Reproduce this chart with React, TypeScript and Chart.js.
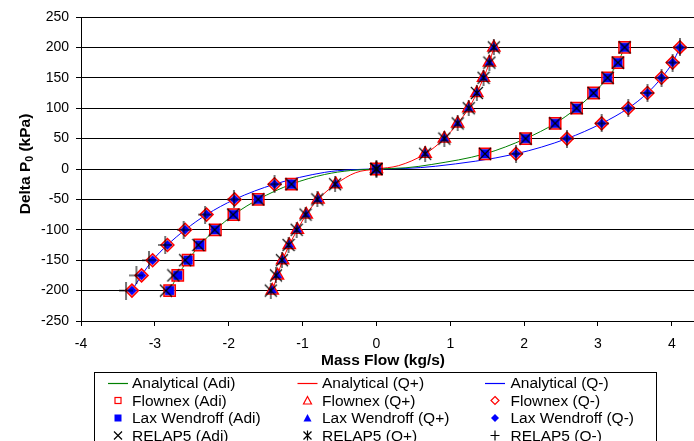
import React, { useEffect, useRef } from 'react';
import { Chart, registerables } from 'chart.js';

Chart.register(...registerables);

const FONT = "'Liberation Sans', Arial, Helvetica, sans-serif";

// Pressure difference levels (kPa) at which each model was evaluated
const pressureLevels = [-200, -175, -150, -125, -100, -75, -50, -25, 0, 25, 50, 75, 100, 125, 150, 175, 200];

// Mass flow (kg/s) per pressure level: Flownex and Lax Wendroff
const flowAdi = [-2.80, -2.69, -2.55, -2.39, -2.18, -1.93, -1.60, -1.15, 0, 1.47, 2.02, 2.42, 2.71, 2.94, 3.13, 3.27, 3.36];
const flowQPlus = [-1.41, -1.34, -1.27, -1.18, -1.07, -0.95, -0.79, -0.55, 0, 0.66, 0.92, 1.10, 1.25, 1.36, 1.45, 1.53, 1.59];
const flowQMinus = [-3.31, -3.18, -3.03, -2.83, -2.59, -2.30, -1.92, -1.38, 0, 1.89, 2.58, 3.05, 3.41, 3.67, 3.86, 4.01, 4.11];

// RELAP5 mass flow (kg/s) per pressure level
const relapAdi = [-2.85, -2.75, -2.59, -2.41, -2.19, -1.94, -1.60, -1.15, 0, 1.47, 2.02, 2.42, 2.71, 2.94, 3.13, 3.27, 3.36];
const relapQPlus = [-1.43, -1.36, -1.28, -1.19, -1.08, -0.96, -0.80, -0.56, 0, 0.66, 0.92, 1.10, 1.25, 1.36, 1.45, 1.53, 1.59];
const relapQMinus = [-3.39, -3.25, -3.08, -2.86, -2.61, -2.32, -1.93, -1.38, 0, 1.89, 2.58, 3.05, 3.41, 3.67, 3.86, 4.01, 4.11];

// Analytical solutions (mass flow kg/s, pressure kPa)
const analyticAdiFlow = [-2.80, -2.69, -2.55, -2.39, -2.18, -1.93, -1.60, -1.15, -0.70, -0.35, 0, 0.40, 0.75, 1.47, 2.02, 2.42, 2.71, 2.94, 3.13, 3.27, 3.36];
const analyticAdiDp = [-200, -175, -150, -125, -100, -75, -50, -25, -9, -2.5, 0, 2, 7.5, 25, 50, 75, 100, 125, 150, 175, 200];
const analyticQPlusFlow = [-1.41, -1.34, -1.27, -1.18, -1.07, -0.95, -0.79, -0.55, -0.28, 0, 0.30, 0.66, 0.92, 1.10, 1.25, 1.36, 1.45, 1.53, 1.59];
const analyticQPlusDp = [-200, -175, -150, -125, -100, -75, -50, -25, -6, 0, 5.5, 25, 50, 75, 100, 125, 150, 175, 200];
const analyticQMinusFlow = [-3.31, -3.18, -3.03, -2.83, -2.59, -2.30, -1.92, -1.38, -0.70, -0.35, 0, 0.40, 0.80, 1.89, 2.58, 3.05, 3.41, 3.67, 3.86, 4.01, 4.11];
const analyticQMinusDp = [-200, -175, -150, -125, -100, -75, -50, -25, -5.5, -1.3, 0, 1, 4.5, 25, 50, 75, 100, 125, 150, 175, 200];

// Axis ranges
const flowMin = -4;
const flowMax = 4.3;
const dpMin = -250;
const dpMax = 250;
const dpStep = 50;

const legendLabels = [
  ['Analytical (Adi)', 'Analytical (Q+)', 'Analytical (Q-)'],
  ['Flownex (Adi)', 'Flownex (Q+)', 'Flownex (Q-)'],
  ['Lax Wendroff (Adi)', 'Lax Wendroff (Q+)', 'Lax Wendroff (Q-)'],
  ['RELAP5 (Adi)', 'RELAP5 (Q+)', 'RELAP5 (Q-)'],
];

const GREEN = '#008000';
const RED = '#FF0000';
const BLUE = '#0000FF';
const PINK = 'rgba(255,110,110,0.55)';

const toPoints = (xs: number[], ys: number[]) => xs.map((x, i) => ({ x, y: ys[i] }));

function markerCanvas(w: number, h: number, draw: (ctx: CanvasRenderingContext2D, w: number, h: number) => void) {
  const c = document.createElement('canvas');
  c.width = w;
  c.height = h;
  const ctx = c.getContext('2d')!;
  ctx.strokeStyle = '#000';
  ctx.lineWidth = 1.1;
  draw(ctx, w, h);
  return c;
}

// Legend sample glyphs
function legendMarker(ctx: CanvasRenderingContext2D, kind: string, cx: number, cy: number) {
  ctx.save();
  ctx.lineWidth = 1.2;
  ctx.beginPath();
  switch (kind) {
    case 'openSquare':
      ctx.strokeStyle = RED;
      ctx.strokeRect(cx - 3, cy - 3, 6, 6);
      break;
    case 'openTriangle':
      ctx.strokeStyle = RED;
      ctx.moveTo(cx, cy - 4);
      ctx.lineTo(cx + 4, cy + 3.5);
      ctx.lineTo(cx - 4, cy + 3.5);
      ctx.closePath();
      ctx.stroke();
      break;
    case 'openDiamond':
      ctx.strokeStyle = RED;
      ctx.moveTo(cx, cy - 4);
      ctx.lineTo(cx + 4, cy);
      ctx.lineTo(cx, cy + 4);
      ctx.lineTo(cx - 4, cy);
      ctx.closePath();
      ctx.stroke();
      break;
    case 'fillSquare':
      ctx.fillStyle = BLUE;
      ctx.fillRect(cx - 3.5, cy - 3.5, 7, 7);
      break;
    case 'fillTriangle':
      ctx.fillStyle = BLUE;
      ctx.moveTo(cx, cy - 4);
      ctx.lineTo(cx + 4, cy + 3.5);
      ctx.lineTo(cx - 4, cy + 3.5);
      ctx.closePath();
      ctx.fill();
      break;
    case 'fillDiamond':
      ctx.fillStyle = BLUE;
      ctx.moveTo(cx, cy - 4);
      ctx.lineTo(cx + 4, cy);
      ctx.lineTo(cx, cy + 4);
      ctx.lineTo(cx - 4, cy);
      ctx.closePath();
      ctx.fill();
      break;
    case 'x':
      ctx.strokeStyle = '#000';
      ctx.moveTo(cx - 4, cy - 4);
      ctx.lineTo(cx + 4, cy + 4);
      ctx.moveTo(cx + 4, cy - 4);
      ctx.lineTo(cx - 4, cy + 4);
      ctx.stroke();
      break;
    case 'asterisk':
      ctx.strokeStyle = '#000';
      ctx.moveTo(cx - 4, cy - 4);
      ctx.lineTo(cx + 4, cy + 4);
      ctx.moveTo(cx + 4, cy - 4);
      ctx.lineTo(cx - 4, cy + 4);
      ctx.moveTo(cx, cy - 5);
      ctx.lineTo(cx, cy + 5);
      ctx.stroke();
      break;
    case 'plus':
      ctx.strokeStyle = '#000';
      ctx.moveTo(cx - 4.5, cy);
      ctx.lineTo(cx + 4.5, cy);
      ctx.moveTo(cx, cy - 5);
      ctx.lineTo(cx, cy + 5);
      ctx.stroke();
      break;
  }
  ctx.restore();
}

const legendRows: { kind: string; color?: string }[][] = [
  [{ kind: 'line', color: GREEN }, { kind: 'line', color: RED }, { kind: 'line', color: BLUE }],
  [{ kind: 'openSquare' }, { kind: 'openTriangle' }, { kind: 'openDiamond' }],
  [{ kind: 'fillSquare' }, { kind: 'fillTriangle' }, { kind: 'fillDiamond' }],
  [{ kind: 'x' }, { kind: 'asterisk' }, { kind: 'plus' }],
];

const legendColumns = [
  { cx: 118, tx: 132 },
  { cx: 307.5, tx: 322 },
  { cx: 495, tx: 510.5 },
];
const legendRowY = [383, 400.5, 418, 435.5];

const decorPlugin = {
  id: 'decor',
  afterDraw(chart: Chart) {
    const ctx = chart.ctx;
    ctx.save();

    // x axis title
    ctx.fillStyle = '#000';
    ctx.font = `bold 15.5px ${FONT}`;
    ctx.textAlign = 'center';
    ctx.textBaseline = 'middle';
    ctx.fillText('Mass Flow (kg/s)', 383, 361);

    // y axis title with subscript
    ctx.save();
    ctx.translate(30, 164);
    ctx.rotate(-Math.PI / 2);
    ctx.textAlign = 'left';
    ctx.textBaseline = 'alphabetic';
    const main = `bold 15.5px ${FONT}`;
    const sub = `bold 10.5px ${FONT}`;
    ctx.font = main;
    const w1 = ctx.measureText('Delta P').width;
    const w3 = ctx.measureText(' (kPa)').width;
    ctx.font = sub;
    const w2 = ctx.measureText('0').width;
    let x = -(w1 + w2 + w3) / 2;
    ctx.font = main;
    ctx.fillText('Delta P', x, 0);
    x += w1;
    ctx.font = sub;
    ctx.fillText('0', x, 3);
    x += w2;
    ctx.font = main;
    ctx.fillText(' (kPa)', x, 0);
    ctx.restore();

    // legend box
    ctx.strokeStyle = '#000';
    ctx.lineWidth = 1;
    ctx.strokeRect(94.5, 372.5, 562, 120);

    ctx.font = `15.5px ${FONT}`;
    ctx.textAlign = 'left';
    ctx.textBaseline = 'middle';
    legendRows.forEach((row, r) => {
      row.forEach((item, c) => {
        const col = legendColumns[c];
        const cy = legendRowY[r];
        if (item.kind === 'line') {
          ctx.save();
          ctx.strokeStyle = item.color as string;
          ctx.lineWidth = 1.2;
          ctx.beginPath();
          ctx.moveTo(col.cx - 10, Math.round(cy) + 0.5);
          ctx.lineTo(col.cx + 10, Math.round(cy) + 0.5);
          ctx.stroke();
          ctx.restore();
        } else {
          legendMarker(ctx, item.kind, col.cx, cy);
        }
        ctx.fillStyle = '#000';
        ctx.fillText(legendLabels[r][c], col.tx, cy + 1);
      });
    });
    ctx.restore();
  },
};

export default function App() {
  const canvasRef = useRef<HTMLCanvasElement | null>(null);

  useEffect(() => {
    const canvas = canvasRef.current;
    if (!canvas) return;

    const xMark = markerCanvas(14, 14, (ctx, w, h) => {
      ctx.beginPath();
      ctx.moveTo(1, 1);
      ctx.lineTo(w - 1, h - 1);
      ctx.moveTo(w - 1, 1);
      ctx.lineTo(1, h - 1);
      ctx.stroke();
    });
    const starMark = markerCanvas(14, 16, (ctx, w, h) => {
      ctx.beginPath();
      ctx.moveTo(1, 2);
      ctx.lineTo(w - 1, h - 2);
      ctx.moveTo(w - 1, 2);
      ctx.lineTo(1, h - 2);
      ctx.moveTo(w / 2, 0);
      ctx.lineTo(w / 2, h);
      ctx.stroke();
    });
    const plusMark = markerCanvas(14, 18, (ctx, w, h) => {
      ctx.beginPath();
      ctx.moveTo(0, h / 2);
      ctx.lineTo(w, h / 2);
      ctx.moveTo(w / 2, 0);
      ctx.lineTo(w / 2, h);
      ctx.stroke();
    });

    const lineDs = (label: string, xs: number[], ys: number[], color: string) => ({
      label,
      data: toPoints(xs, ys),
      showLine: true,
      borderColor: color,
      borderWidth: 1,
      pointRadius: 0,
      fill: false,
      cubicInterpolationMode: 'monotone' as const,
      order: 3,
    });

    const flownexDs = (label: string, xs: number[], style: string, radius: number) => ({
      label,
      data: toPoints(xs, pressureLevels),
      showLine: false,
      pointStyle: style,
      pointRadius: radius,
      pointBorderColor: RED,
      pointBackgroundColor: PINK,
      pointBorderWidth: 1.5,
      order: 2,
    });

    const laxDs = (label: string, xs: number[], style: string, radius: number) => ({
      label,
      data: toPoints(xs, pressureLevels),
      showLine: false,
      pointStyle: style,
      pointRadius: radius,
      pointBorderColor: BLUE,
      pointBackgroundColor: BLUE,
      pointBorderWidth: 0.5,
      order: 1,
    });

    const relapDs = (label: string, xs: number[], mark: HTMLCanvasElement) => ({
      label,
      data: toPoints(xs, pressureLevels),
      showLine: false,
      pointStyle: mark,
      pointRadius: 7,
      order: 0,
    });

    const chart = new Chart(canvas, {
      type: 'scatter',
      data: {
        datasets: [
          lineDs('Analytical (Adi)', analyticAdiFlow, analyticAdiDp, GREEN),
          lineDs('Analytical (Q+)', analyticQPlusFlow, analyticQPlusDp, RED),
          lineDs('Analytical (Q-)', analyticQMinusFlow, analyticQMinusDp, BLUE),
          flownexDs('Flownex (Adi)', flowAdi, 'rect', 8),
          flownexDs('Flownex (Q+)', flowQPlus, 'triangle', 7),
          flownexDs('Flownex (Q-)', flowQMinus, 'rectRot', 6.5),
          laxDs('Lax Wendroff (Adi)', flowAdi, 'rect', 6),
          laxDs('Lax Wendroff (Q+)', flowQPlus, 'triangle', 5),
          laxDs('Lax Wendroff (Q-)', flowQMinus, 'rectRot', 4.5),
          relapDs('RELAP5 (Adi)', relapAdi, xMark),
          relapDs('RELAP5 (Q+)', relapQPlus, starMark),
          relapDs('RELAP5 (Q-)', relapQMinus, plusMark),
        ] as any,
      },
      options: {
        responsive: false,
        animation: false,
        events: [],
        layout: { autoPadding: false, padding: { top: 17, right: 0, left: 0, bottom: 0 } },
        plugins: {
          legend: { display: false },
          tooltip: { enabled: false },
        },
        scales: {
          x: {
            type: 'linear',
            min: flowMin,
            max: flowMax,
            afterFit: (s: any) => {
              s.height = 120;
              s.paddingLeft = 0;
              s.paddingRight = 0;
            },
            ticks: {
              stepSize: 1,
              includeBounds: false,
              color: '#000',
              font: { family: FONT, size: 14 },
              padding: 10,
              maxRotation: 0,
            },
            grid: { drawOnChartArea: false, drawTicks: true, tickLength: 5, color: '#000' },
            border: { color: '#000', width: 1 },
          },
          y: {
            type: 'linear',
            min: dpMin,
            max: dpMax,
            afterFit: (s: any) => {
              s.width = 81;
            },
            ticks: {
              stepSize: dpStep,
              color: '#000',
              font: { family: FONT, size: 14 },
              padding: 7,
            },
            grid: { color: '#000', lineWidth: 1, tickLength: 5 },
            border: { color: '#000', width: 1 },
          },
        },
      },
      plugins: [decorPlugin],
    });

    return () => chart.destroy();
  }, []);

  return (
    <div style={{ position: 'fixed', left: 0, top: 0, width: 694, height: 441, background: '#fff' }}>
      <canvas ref={canvasRef} width={694} height={441} style={{ display: 'block', width: 694, height: 441 }} />
    </div>
  );
}
